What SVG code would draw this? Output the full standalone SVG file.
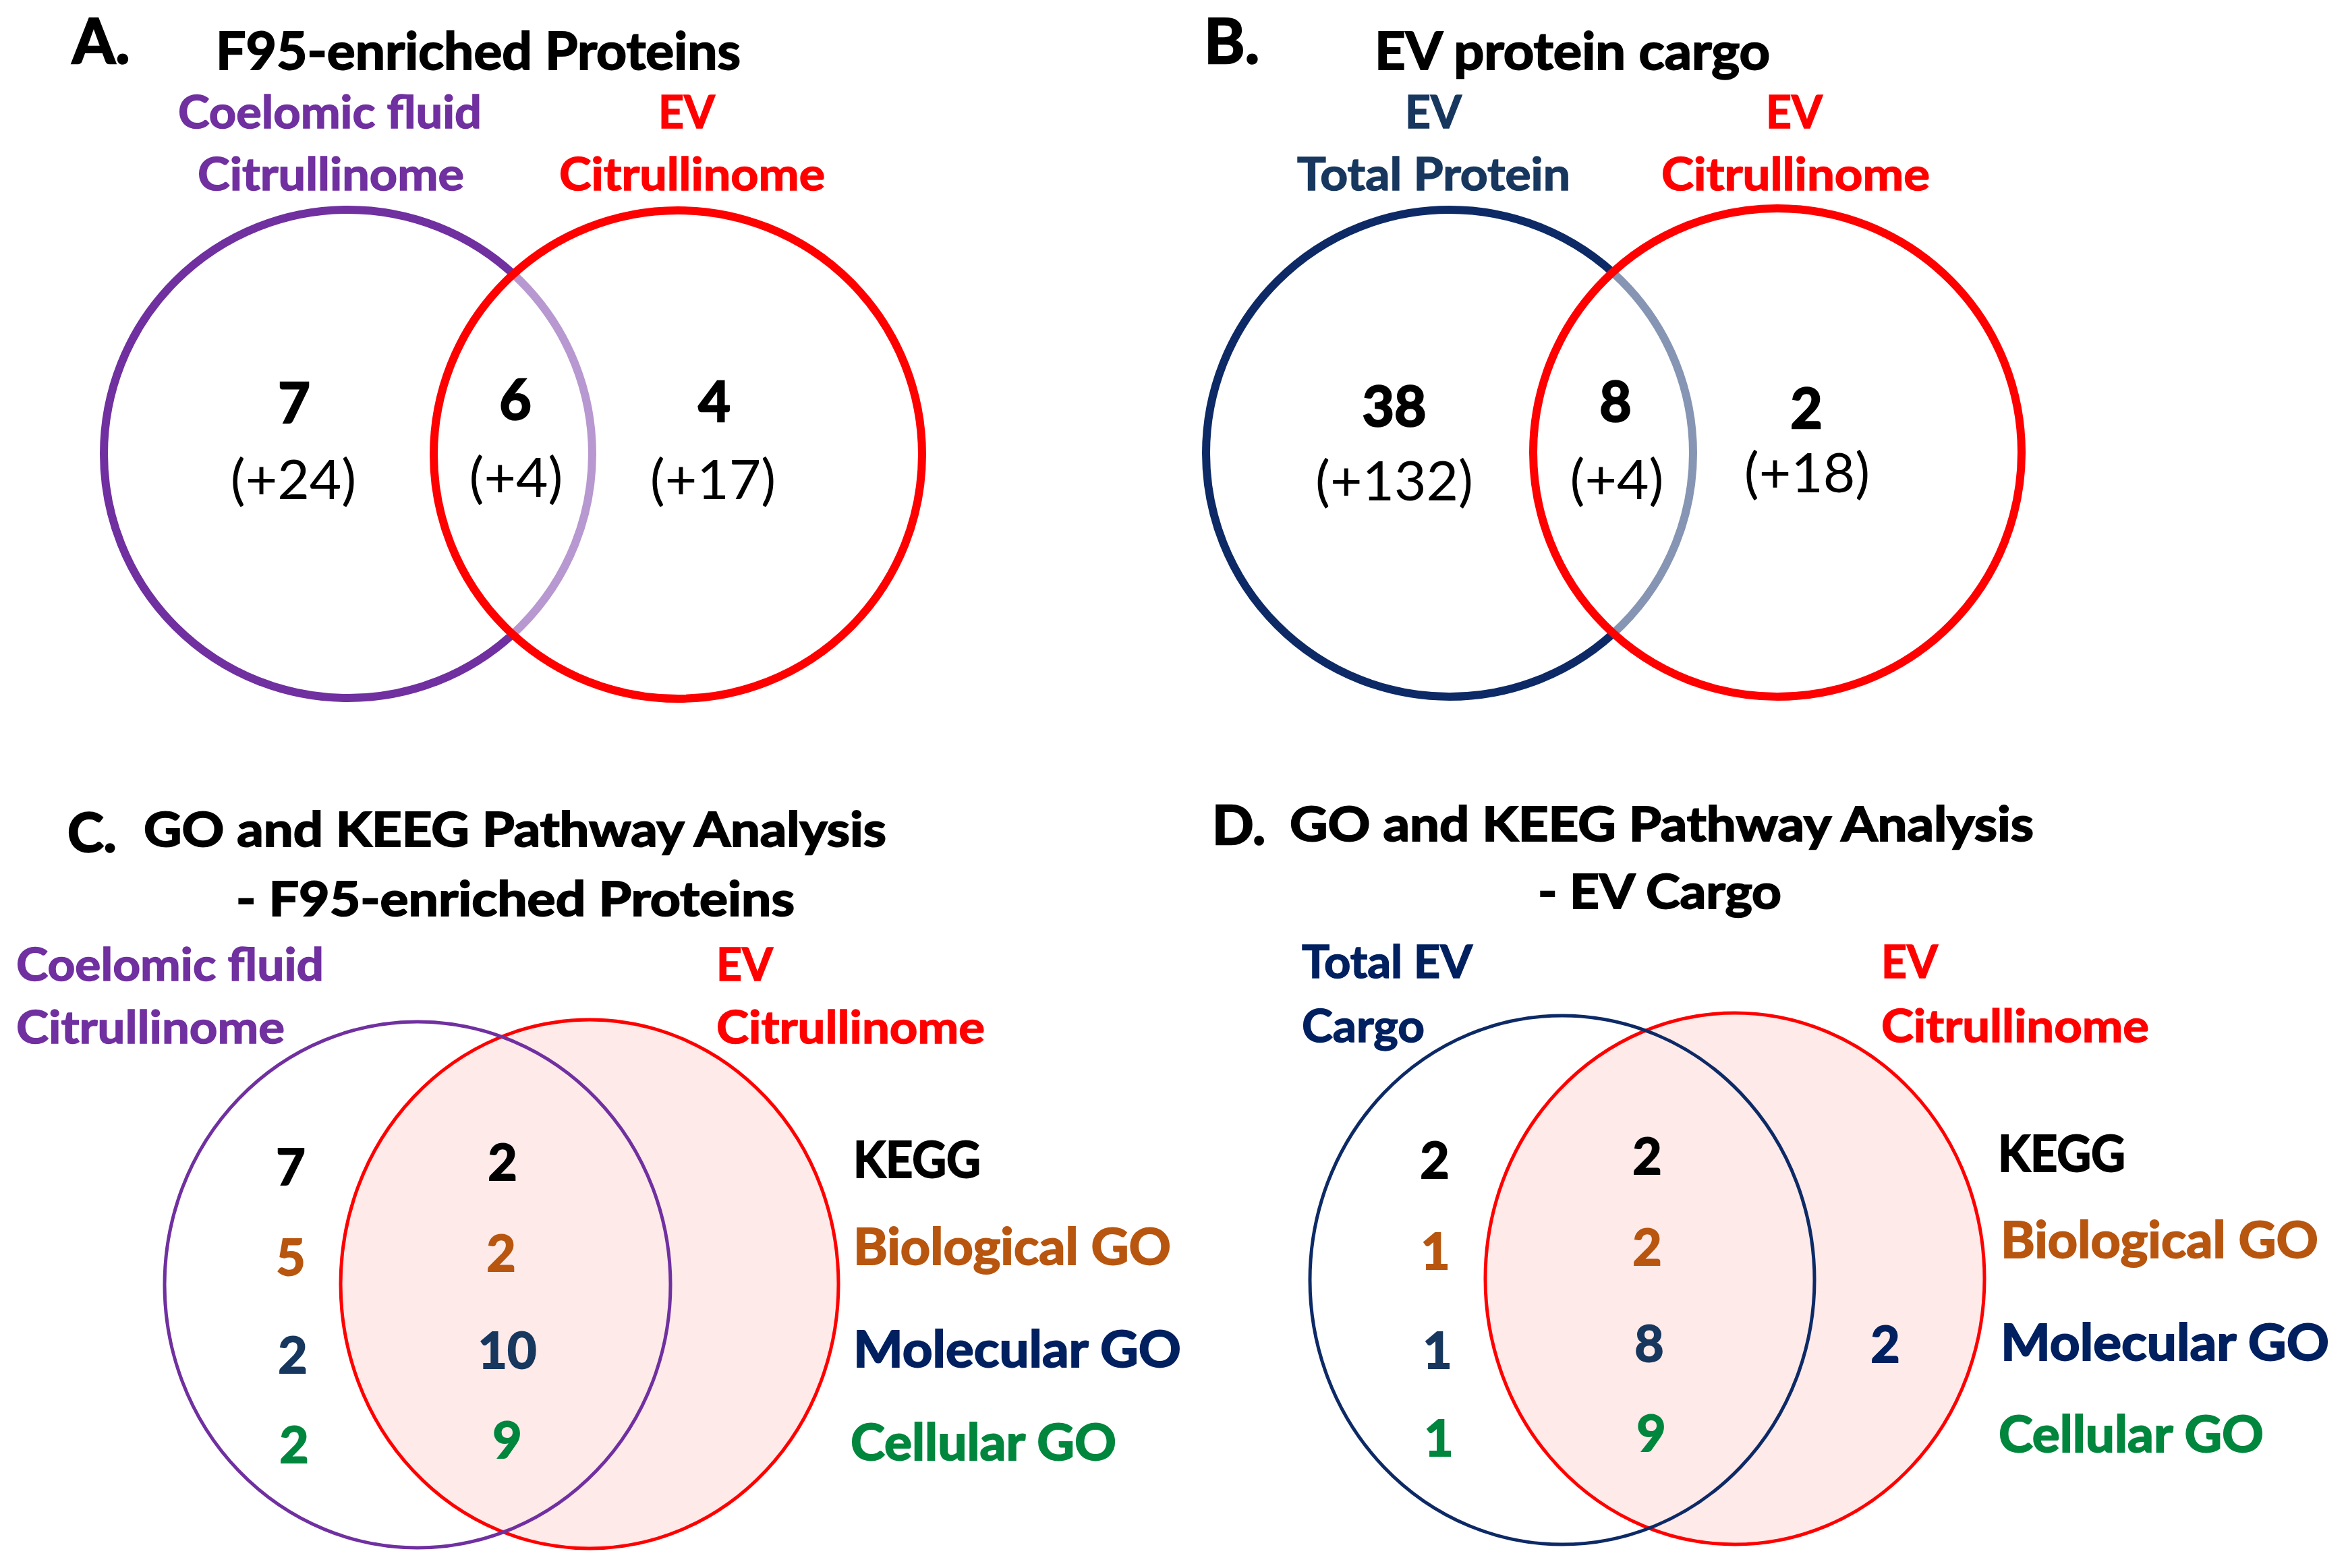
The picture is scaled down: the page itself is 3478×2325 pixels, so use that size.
<svg xmlns="http://www.w3.org/2000/svg" width="3478" height="2325" viewBox="0 0 3478 2325">
<style>
text{font-family:Lato,"Open Sans","Liberation Sans",sans-serif;}
.m{text-anchor:middle}
.pl{font-size:92px;font-weight:700;fill:#000;stroke:#000;stroke-width:2.5}
.pl2{font-size:81px;font-weight:700;fill:#000;stroke:#000;stroke-width:2.5}
.ttl{font-size:77px;font-weight:700;fill:#000;stroke:#000;stroke-width:2}
.ttl2{font-size:71px;font-weight:700;fill:#000;stroke:#000;stroke-width:2}
.lab{font-size:66px;font-weight:700;stroke-width:1.5}
.big{font-size:82px;font-weight:700;fill:#000;stroke:#000;stroke-width:2.5}
.par{font-size:82px;font-weight:400;fill:#000}
.num{font-size:75px;font-weight:700;stroke-width:2}
.leg{font-size:75px;font-weight:700;stroke-width:2}
.purple{fill:#7030A0;stroke:#7030A0}
.red{fill:#FF0000;stroke:#FF0000}
.navy{fill:#002060;stroke:#002060}
.teal{fill:#17375E;stroke:#17375E}
.orange{fill:#B8560F;stroke:#B8560F}
.green{fill:#00863D;stroke:#00863D}
.blk{fill:#000;stroke:#000}
.thick{stroke-width:12}
.thin{stroke-width:5}
</style>
<rect width="3478" height="2325" fill="#fff"/>

<!-- Panel A -->
<g id="panelA">
  <text class="pl" x="107" y="94">A.</text>
  <text class="ttl" x="320" y="103" textLength="778" lengthAdjust="spacingAndGlyphs">F95-enriched Proteins</text>
  <g id="A-coelomic">
    <circle cx="516" cy="673" r="362" fill="none" stroke="#7030A0" class="thick"/>
    <text class="lab purple" x="264" y="190" textLength="450" lengthAdjust="spacingAndGlyphs">Coelomic fluid</text>
    <text class="lab purple" x="293" y="282" textLength="395" lengthAdjust="spacingAndGlyphs">Citrullinome</text>
  </g>
  <g id="A-ev">
    <circle cx="1005" cy="674" r="362" fill="#fff" fill-opacity="0.5" stroke="#FF0000" class="thick"/>
    <text class="lab red m" x="1018" y="190">EV</text>
    <text class="lab red" x="829" y="282" textLength="394" lengthAdjust="spacingAndGlyphs">Citrullinome</text>
  </g>
  <g id="A-counts">
    <text class="big m" x="436" y="627">7</text>
    <text class="par m" x="435" y="740">(+24)</text>
    <text class="big m" x="764" y="622">6</text>
    <text class="par m" x="765" y="737">(+4)</text>
    <text class="big m" x="1059" y="625">4</text>
    <text class="par m" x="1057" y="740">(+17)</text>
  </g>
</g>

<!-- Panel B -->
<g id="panelB">
  <text class="pl" x="1785" y="94">B.</text>
  <text class="ttl" x="2038" y="103" textLength="586" lengthAdjust="spacingAndGlyphs">EV protein cargo</text>
  <g id="B-total">
    <circle cx="2149" cy="672" r="361" fill="none" stroke="#0D2A66" class="thick"/>
    <text class="lab teal m" x="2125" y="190">EV</text>
    <text class="lab teal" x="1923" y="282" textLength="405" lengthAdjust="spacingAndGlyphs">Total Protein</text>
  </g>
  <g id="B-ev">
    <circle cx="2635" cy="671" r="362" fill="#fff" fill-opacity="0.5" stroke="#FF0000" class="thick"/>
    <text class="lab red m" x="2660" y="190">EV</text>
    <text class="lab red" x="2463" y="282" textLength="398" lengthAdjust="spacingAndGlyphs">Citrullinome</text>
  </g>
  <g id="B-counts">
    <text class="big m" x="2067" y="632">38</text>
    <text class="par m" x="2067" y="742">(+132)</text>
    <text class="big m" x="2395" y="625">8</text>
    <text class="par m" x="2397" y="740">(+4)</text>
    <text class="big m" x="2678" y="635">2</text>
    <text class="par m" x="2679" y="730">(+18)</text>
  </g>
</g>

<!-- Panel C -->
<g id="panelC">
  <text class="pl2" x="100" y="1263">C.</text>
  <text class="ttl2" x="213" y="1255" textLength="1101" lengthAdjust="spacingAndGlyphs">GO and KEEG Pathway Analysis</text>
  <text class="ttl2" x="350" y="1358" textLength="828" lengthAdjust="spacingAndGlyphs">- F95-enriched Proteins</text>
  <g id="C-ev">
    <ellipse cx="874" cy="1904" rx="369" ry="392" fill="#FDEAE9" stroke="#FF0000" class="thin"/>
    <text class="lab red" x="1062" y="1454">EV</text>
    <text class="lab red" x="1062" y="1547" textLength="398" lengthAdjust="spacingAndGlyphs">Citrullinome</text>
  </g>
  <g id="C-coelomic">
    <ellipse cx="619" cy="1905" rx="375" ry="390" fill="none" stroke="#7030A0" class="thin"/>
    <text class="lab purple" x="24" y="1454" textLength="456" lengthAdjust="spacingAndGlyphs">Coelomic fluid</text>
    <text class="lab purple" x="24" y="1547" textLength="398" lengthAdjust="spacingAndGlyphs">Citrullinome</text>
  </g>
  <g id="C-counts">
    <text class="num blk m" x="431" y="1757">7</text>
    <text class="num orange m" x="431" y="1891">5</text>
    <text class="num teal m" x="434" y="2036">2</text>
    <text class="num green m" x="436" y="2169">2</text>
    <text class="num blk m" x="745" y="1750">2</text>
    <text class="num orange m" x="743" y="1885">2</text>
    <text class="num teal m" x="752" y="2029">10</text>
    <text class="num green m" x="752" y="2162">9</text>
  </g>
  <g id="C-legend">
    <text class="leg blk" x="1265" y="1746" textLength="189" lengthAdjust="spacingAndGlyphs">KEGG</text>
    <text class="leg orange" x="1265" y="1875" textLength="471" lengthAdjust="spacingAndGlyphs">Biological GO</text>
    <text class="leg navy" x="1265" y="2027" textLength="486" lengthAdjust="spacingAndGlyphs">Molecular GO</text>
    <text class="leg green" x="1261" y="2165" textLength="394" lengthAdjust="spacingAndGlyphs">Cellular GO</text>
  </g>
</g>

<!-- Panel D -->
<g id="panelD">
  <text class="pl2" x="1797" y="1252">D.</text>
  <text class="ttl2" x="1912" y="1247" textLength="1103" lengthAdjust="spacingAndGlyphs">GO and KEEG Pathway Analysis</text>
  <text class="ttl2" x="2280" y="1347" textLength="361" lengthAdjust="spacingAndGlyphs">- EV Cargo</text>
  <g id="D-ev">
    <ellipse cx="2572" cy="1896" rx="370" ry="394" fill="#FDEAE9" stroke="#FF0000" class="thin"/>
    <text class="lab red" x="2789" y="1450">EV</text>
    <text class="lab red" x="2789" y="1545" textLength="397" lengthAdjust="spacingAndGlyphs">Citrullinome</text>
  </g>
  <g id="D-total">
    <ellipse cx="2316" cy="1898" rx="374" ry="392" fill="none" stroke="#0D2A66" class="thin"/>
    <text class="lab navy" x="1930" y="1450" textLength="253" lengthAdjust="spacingAndGlyphs">Total EV</text>
    <text class="lab navy" x="1930" y="1545" textLength="182" lengthAdjust="spacingAndGlyphs">Cargo</text>
  </g>
  <g id="D-counts">
    <text class="num blk m" x="2127" y="1747">2</text>
    <text class="num orange m" x="2128" y="1882">1</text>
    <text class="num teal m" x="2131" y="2029">1</text>
    <text class="num green m" x="2133" y="2159">1</text>
    <text class="num blk m" x="2442" y="1741">2</text>
    <text class="num orange m" x="2442" y="1876">2</text>
    <text class="num teal m" x="2445" y="2019">8</text>
    <text class="num green m" x="2448" y="2152">9</text>
    <text class="num navy m" x="2795" y="2020">2</text>
  </g>
  <g id="D-legend">
    <text class="leg blk" x="2962" y="1737" textLength="189" lengthAdjust="spacingAndGlyphs">KEGG</text>
    <text class="leg orange" x="2966" y="1865" textLength="471" lengthAdjust="spacingAndGlyphs">Biological GO</text>
    <text class="leg navy" x="2966" y="2017" textLength="487" lengthAdjust="spacingAndGlyphs">Molecular GO</text>
    <text class="leg green" x="2963" y="2153" textLength="393" lengthAdjust="spacingAndGlyphs">Cellular GO</text>
  </g>
</g>
</svg>
